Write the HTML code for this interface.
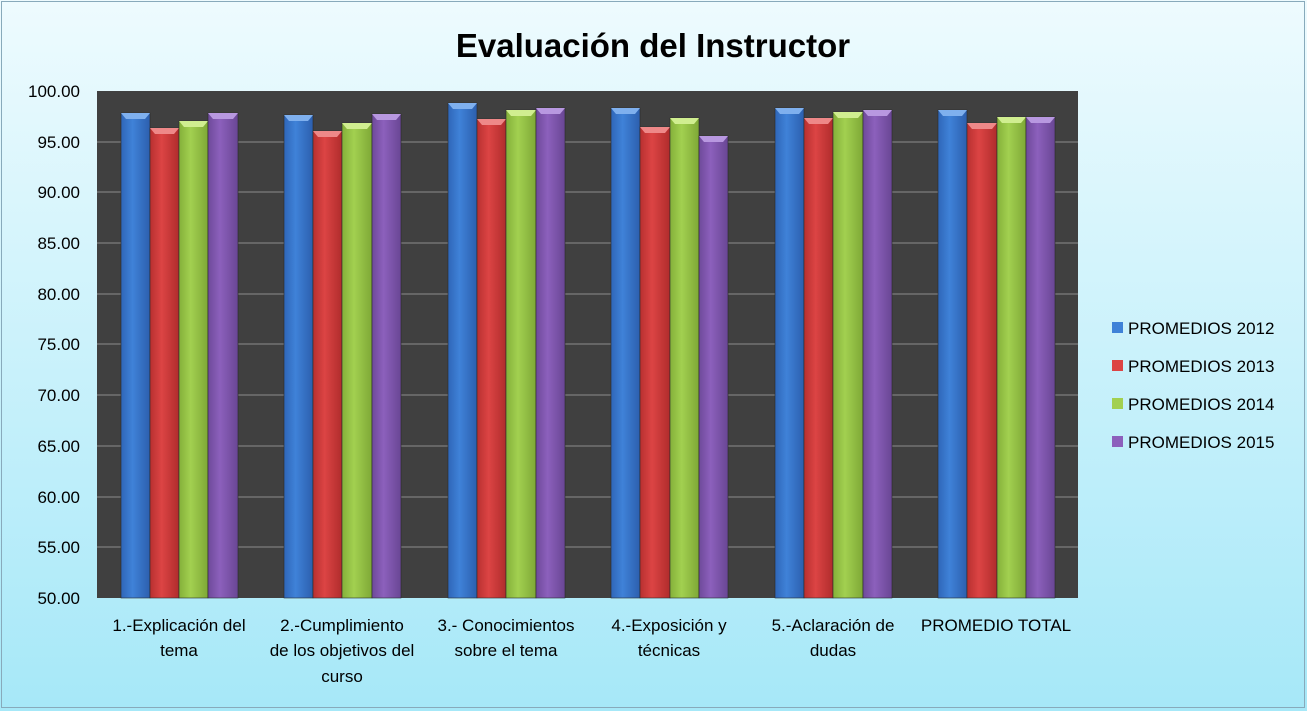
<!DOCTYPE html>
<html><head><meta charset="utf-8"><style>
body{margin:0;background:#fff}
</style></head><body>
<svg width="1307" height="711" xmlns="http://www.w3.org/2000/svg" font-family="Liberation Sans, sans-serif">
<defs>
<linearGradient id="bg" x1="0" y1="0" x2="0" y2="1"><stop offset="0" stop-color="#eefbfe"/><stop offset="1" stop-color="#a6e8f8"/></linearGradient>
<linearGradient id="gb" x1="0" x2="1"><stop offset="0" stop-color="#2f66b8"/><stop offset=".4" stop-color="#3f82d8"/><stop offset="1" stop-color="#2c5fae"/></linearGradient>
<linearGradient id="gr" x1="0" x2="1"><stop offset="0" stop-color="#b83030"/><stop offset=".4" stop-color="#dc4444"/><stop offset="1" stop-color="#b02c2c"/></linearGradient>
<linearGradient id="gg" x1="0" x2="1"><stop offset="0" stop-color="#84b03a"/><stop offset=".4" stop-color="#a2d050"/><stop offset="1" stop-color="#7ea836"/></linearGradient>
<linearGradient id="gp" x1="0" x2="1"><stop offset="0" stop-color="#6e4a9a"/><stop offset=".4" stop-color="#8c60bc"/><stop offset="1" stop-color="#694694"/></linearGradient>
</defs>
<rect x="0" y="0" width="1307" height="711" fill="url(#bg)"/>
<rect x="1.5" y="1.5" width="1303" height="706" fill="none" stroke="#8ab" stroke-width="1"/>
<text x="653" y="57" text-anchor="middle" font-size="33" font-weight="bold" fill="#000">Evaluación del Instructor</text>
<rect x="97" y="91" width="981" height="507" fill="#404040"/>
<g stroke="#8c8c8c" stroke-width="1">
<line x1="97" x2="1078" y1="142" y2="142"/><line x1="97" x2="1078" y1="192" y2="192"/>
<line x1="97" x2="1078" y1="243" y2="243"/><line x1="97" x2="1078" y1="294" y2="294"/>
<line x1="97" x2="1078" y1="344" y2="344"/><line x1="97" x2="1078" y1="395" y2="395"/>
<line x1="97" x2="1078" y1="446" y2="446"/><line x1="97" x2="1078" y1="497" y2="497"/>
<line x1="97" x2="1078" y1="547" y2="547"/>
</g>
<g font-size="17" fill="#000" text-anchor="end">
<text x="80" y="97">100.00</text><text x="80" y="148">95.00</text><text x="80" y="198">90.00</text>
<text x="80" y="249">85.00</text><text x="80" y="300">80.00</text><text x="80" y="350">75.00</text>
<text x="80" y="401">70.00</text><text x="80" y="452">65.00</text><text x="80" y="503">60.00</text>
<text x="80" y="553">55.00</text><text x="80" y="604">50.00</text>
</g>
<g stroke="#2a2a2a" stroke-width="0.6">
<!-- group 1 -->
<rect x="121" y="113" width="29" height="485" fill="url(#gb)"/><polygon points="121,113 150,113 145,119 126,119" fill="#7fb0ee" stroke="none"/>
<rect x="150" y="128" width="29" height="470" fill="url(#gr)"/><polygon points="150,128 179,128 174,134 155,134" fill="#ee8888" stroke="none"/>
<rect x="179" y="121" width="29" height="477" fill="url(#gg)"/><polygon points="179,121 208,121 203,127 184,127" fill="#d0ee90" stroke="none"/>
<rect x="208" y="113" width="30" height="485" fill="url(#gp)"/><polygon points="208,113 238,113 233,119 213,119" fill="#b898e0" stroke="none"/>
<!-- group 2 -->
<rect x="284" y="115" width="29" height="483" fill="url(#gb)"/><polygon points="284,115 313,115 308,121 289,121" fill="#7fb0ee" stroke="none"/>
<rect x="313" y="131" width="29" height="467" fill="url(#gr)"/><polygon points="313,131 342,131 337,137 318,137" fill="#ee8888" stroke="none"/>
<rect x="342" y="123" width="30" height="475" fill="url(#gg)"/><polygon points="342,123 372,123 367,129 347,129" fill="#d0ee90" stroke="none"/>
<rect x="372" y="114" width="29" height="484" fill="url(#gp)"/><polygon points="372,114 401,114 396,120 377,120" fill="#b898e0" stroke="none"/>
<!-- group 3 -->
<rect x="448" y="103" width="29" height="495" fill="url(#gb)"/><polygon points="448,103 477,103 472,109 453,109" fill="#7fb0ee" stroke="none"/>
<rect x="477" y="119" width="29" height="479" fill="url(#gr)"/><polygon points="477,119 506,119 501,125 482,125" fill="#ee8888" stroke="none"/>
<rect x="506" y="110" width="30" height="488" fill="url(#gg)"/><polygon points="506,110 536,110 531,116 511,116" fill="#d0ee90" stroke="none"/>
<rect x="536" y="108" width="29" height="490" fill="url(#gp)"/><polygon points="536,108 565,108 560,114 541,114" fill="#b898e0" stroke="none"/>
<!-- group 4 -->
<rect x="611" y="108" width="29" height="490" fill="url(#gb)"/><polygon points="611,108 640,108 635,114 616,114" fill="#7fb0ee" stroke="none"/>
<rect x="640" y="127" width="30" height="471" fill="url(#gr)"/><polygon points="640,127 670,127 665,133 645,133" fill="#ee8888" stroke="none"/>
<rect x="670" y="118" width="29" height="480" fill="url(#gg)"/><polygon points="670,118 699,118 694,124 675,124" fill="#d0ee90" stroke="none"/>
<rect x="699" y="136" width="29" height="462" fill="url(#gp)"/><polygon points="699,136 728,136 723,142 704,142" fill="#b898e0" stroke="none"/>
<!-- group 5 -->
<rect x="775" y="108" width="29" height="490" fill="url(#gb)"/><polygon points="775,108 804,108 799,114 780,114" fill="#7fb0ee" stroke="none"/>
<rect x="804" y="118" width="29" height="480" fill="url(#gr)"/><polygon points="804,118 833,118 828,124 809,124" fill="#ee8888" stroke="none"/>
<rect x="833" y="112" width="30" height="486" fill="url(#gg)"/><polygon points="833,112 863,112 858,118 838,118" fill="#d0ee90" stroke="none"/>
<rect x="863" y="110" width="29" height="488" fill="url(#gp)"/><polygon points="863,110 892,110 887,116 868,116" fill="#b898e0" stroke="none"/>
<!-- group 6 -->
<rect x="938" y="110" width="29" height="488" fill="url(#gb)"/><polygon points="938,110 967,110 962,116 943,116" fill="#7fb0ee" stroke="none"/>
<rect x="967" y="123" width="30" height="475" fill="url(#gr)"/><polygon points="967,123 997,123 992,129 972,129" fill="#ee8888" stroke="none"/>
<rect x="997" y="117" width="29" height="481" fill="url(#gg)"/><polygon points="997,117 1026,117 1021,123 1002,123" fill="#d0ee90" stroke="none"/>
<rect x="1026" y="117" width="29" height="481" fill="url(#gp)"/><polygon points="1026,117 1055,117 1050,123 1031,123" fill="#b898e0" stroke="none"/>
</g>
<g font-size="17" fill="#000" text-anchor="middle">
<text x="179" y="631">1.-Explicación del</text><text x="179" y="656">tema</text>
<text x="342" y="631">2.-Cumplimiento</text><text x="342" y="656">de los objetivos del</text><text x="342" y="682">curso</text>
<text x="506" y="631">3.- Conocimientos</text><text x="506" y="656">sobre el tema</text>
<text x="669" y="631">4.-Exposición y</text><text x="669" y="656">técnicas</text>
<text x="833" y="631">5.-Aclaración de</text><text x="833" y="656">dudas</text>
<text x="996" y="631">PROMEDIO TOTAL</text>
</g>
<g font-size="17" fill="#000">
<rect x="1112" y="322" width="11" height="11" fill="#3f82d8"/><text x="1128" y="334">PROMEDIOS 2012</text>
<rect x="1112" y="360" width="11" height="11" fill="#dc4444"/><text x="1128" y="372">PROMEDIOS 2013</text>
<rect x="1112" y="398" width="11" height="11" fill="#a2d050"/><text x="1128" y="410">PROMEDIOS 2014</text>
<rect x="1112" y="436" width="11" height="11" fill="#8c60bc"/><text x="1128" y="448">PROMEDIOS 2015</text>
</g>
</svg>
</body></html>
